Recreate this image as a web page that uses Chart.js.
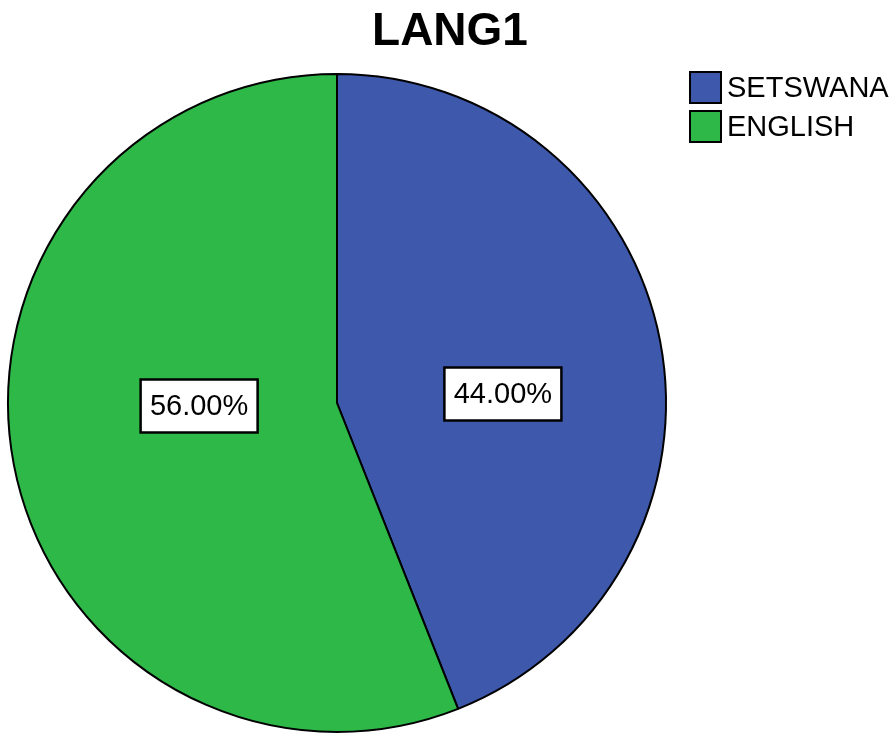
<!DOCTYPE html>
<html lang="en">
<head>
  <meta charset="UTF-8">
  <title>LANG1</title>
  <script src="https://cdn.jsdelivr.net/npm/chart.js"></script>
  <style>
    body { margin: 0; background: #fff; }
    canvas { display: block; }
  </style>
</head>
<body>
  <canvas id="grafico" width="896" height="738"></canvas>

  <script>
    const titulo = "LANG1";
    const categorias = ["SETSWANA", "ENGLISH"];
    const porcentajes = [44.0, 56.0];
    const colores = ["#3E58AC", "#2EB848"];

    // titulo, leyenda y etiquetas con caja blanca (estilo SPSS)
    const extras = {
      id: 'extras',
      afterDraw(chart) {
        const ctx = chart.ctx;
        ctx.save();
        ctx.fillStyle = '#000';
        ctx.textAlign = 'center';
        ctx.textBaseline = 'middle';
        ctx.font = 'bold 46px "Liberation Sans", Arial, sans-serif';
        ctx.fillText(titulo, 450, 32);

        // leyenda
        ctx.font = '29px "Liberation Sans", Arial, sans-serif';
        ctx.textAlign = 'left';
        chart.data.labels.forEach((lab, i) => {
          const y = 72 + i * 39;
          ctx.fillStyle = colores[i];
          ctx.fillRect(690, y, 31, 31);
          ctx.lineWidth = 2;
          ctx.strokeStyle = '#000';
          ctx.strokeRect(690, y, 31, 31);
          ctx.fillStyle = '#000';
          ctx.fillText(lab, 727, y + 17);
        });

        // etiquetas de porcentaje
        const meta = chart.getDatasetMeta(0);
        ctx.textAlign = 'center';
        meta.data.forEach((arc, i) => {
          const mid = (arc.startAngle + arc.endAngle) / 2;
          const x = arc.x + 14 + Math.cos(mid) * arc.outerRadius * 0.47;
          const y = arc.y - 3 + Math.sin(mid) * 32;
          const txt = porcentajes[i].toFixed(2) + '%';
          const w = 117, h = 53;
          ctx.fillStyle = '#fff';
          ctx.fillRect(x - w / 2, y - h / 2, w, h);
          ctx.lineWidth = 2.5;
          ctx.strokeStyle = '#000';
          ctx.strokeRect(x - w / 2, y - h / 2, w, h);
          ctx.fillStyle = '#000';
          ctx.fillText(txt, x, y + 1);
        });
        ctx.restore();
      }
    };

    const ctx = document.getElementById('grafico').getContext('2d');
    new Chart(ctx, {
      type: 'pie',
      data: {
        labels: categorias,
        datasets: [{
          data: porcentajes,
          backgroundColor: colores,
          borderColor: '#000',
          borderWidth: 2
        }]
      },
      options: {
        responsive: false,
        animation: false,
        layout: { padding: { left: 7, right: 229, top: 73, bottom: 5 } },
        plugins: {
          legend: { display: false },
          title: { display: false },
          tooltip: { enabled: false }
        }
      },
      plugins: [extras]
    });
  </script>
</body>
</html>
